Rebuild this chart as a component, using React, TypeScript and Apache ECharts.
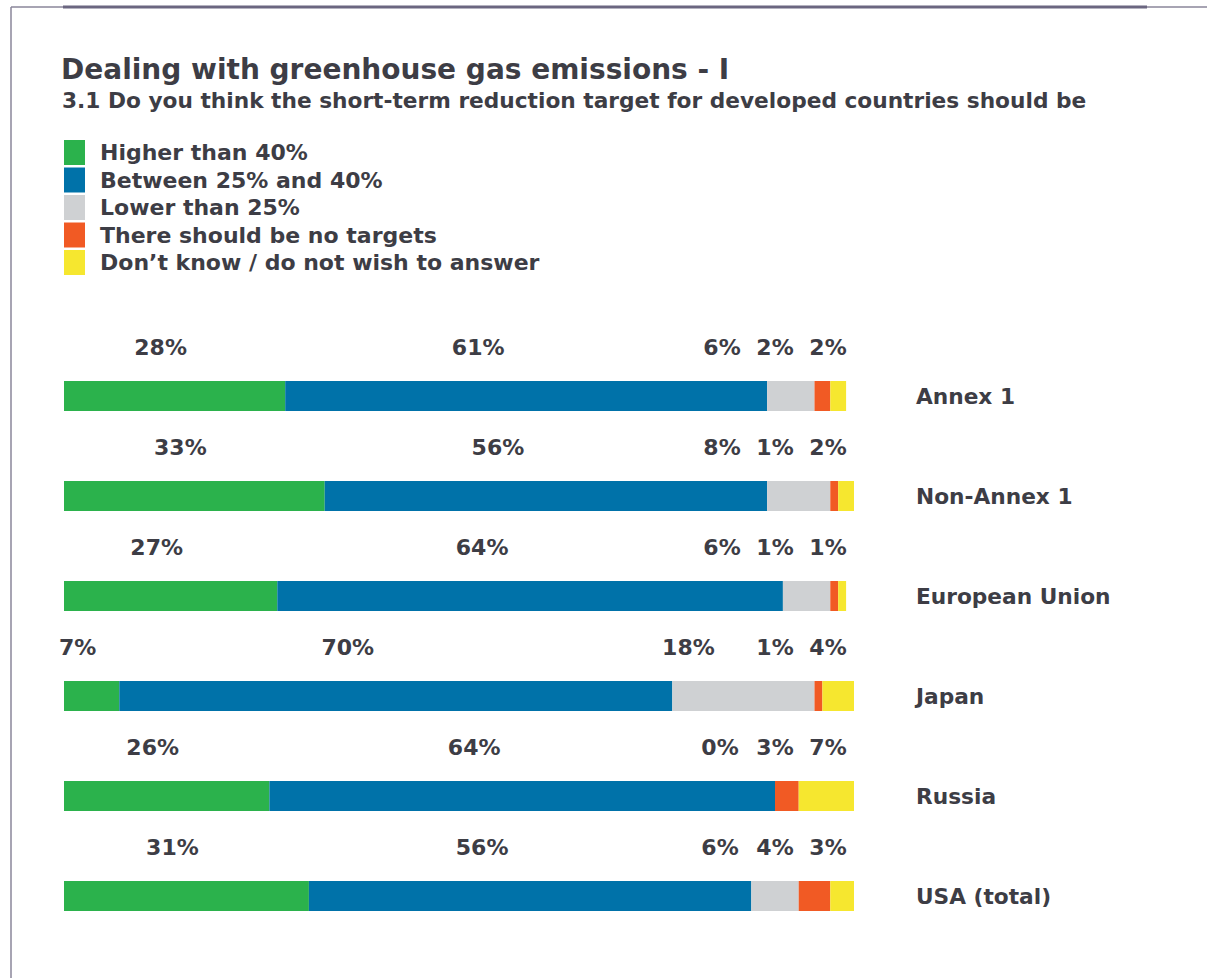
import React, { useEffect, useRef } from "react";
import * as echarts from "echarts";

const categories = ["Annex 1", "Non-Annex 1", "European Union", "Japan", "Russia", "USA (total)"];
const seriesNames = [
  "Higher than 40%",
  "Between 25% and 40%",
  "Lower than 25%",
  "There should be no targets",
  "Don\u2019t know / do not wish to answer",
];
const higher = [28, 33, 27, 7, 26, 31];
const between = [61, 56, 64, 70, 64, 56];
const lower = [6, 8, 6, 18, 0, 6];
const noTargets = [2, 1, 1, 1, 3, 4];
const dontKnow = [2, 2, 1, 4, 7, 3];

const colors = ["#2bb24c", "#0072a9", "#cfd1d3", "#f15a24", "#f6e72f"];
const textColor = "#3d3d45";
const FONT = "'DejaVu Sans', Verdana, sans-serif";

export default function App() {
  const ref = useRef<HTMLDivElement>(null);

  useEffect(() => {
    document.body.style.margin = "0";
    const chart = echarts.init(ref.current!, null, { renderer: "svg" });
    const values = [higher, between, lower, noTargets, dontKnow];

    const barSeries = values.map((arr, k) => ({
      name: seriesNames[k],
      type: "bar",
      stack: "total",
      barWidth: 30,
      data: arr,
      itemStyle: { color: colors[k] },
      emphasis: { disabled: true },
    }));

    const labelSeries = {
      type: "custom",
      data: categories.map((_, i) => [0, i]),
      encode: { x: 0, y: 1 },
      silent: true,
      z: 10,
      renderItem: (params: any, api: any) => {
        const i = api.value(1);
        const h = higher[i], b = between[i], l = lower[i], o = noTargets[i], d = dontKnow[i];
        const c = (v: number) => api.coord([v, i]);
        const x0 = c(0)[0];
        const yc = c(0)[1];
        const gEnd = c(h)[0];
        const bEnd = c(h + b)[0];
        const lEnd = c(h + b + l)[0];
        const full = c(100)[0];
        const y = yc - 49;
        const mk = (x: number, v: number) => ({
          type: "text",
          x,
          y,
          style: {
            text: v + "%",
            fill: textColor,
            fontSize: 22,
            fontWeight: "bold",
            fontFamily: FONT,
            align: "center",
            verticalAlign: "middle",
          },
        });
        return {
          type: "group",
          children: [
            mk((x0 + gEnd) / 2 - 14, h),
            mk((gEnd + bEnd) / 2 - 48, b),
            mk(Math.min(full - 132, (bEnd + lEnd) / 2 - 55), l),
            mk(full - 79, o),
            mk(full - 26, d),
          ],
        };
      },
    };

    chart.setOption({
      animation: false,
      textStyle: { fontFamily: FONT },
      title: [
        {
          text: "Dealing with greenhouse gas emissions - I",
          left: 61,
          top: 55,
          padding: 0,
          textStyle: { fontSize: 28, fontWeight: "bold", color: textColor, fontFamily: FONT },
        },
        {
          text: "3.1 Do you think the short-term reduction target for developed countries should be",
          left: 62,
          top: 89,
          padding: 0,
          textStyle: { fontSize: 21.7, fontWeight: "bold", color: textColor, fontFamily: FONT },
        },
      ],
      legend: {
        data: seriesNames,
        orient: "vertical",
        left: 64,
        top: 140,
        padding: 0,
        itemWidth: 21,
        itemHeight: 25,
        itemGap: 2.5,
        icon: "rect",
        selectedMode: false,
        textStyle: {
          fontSize: 22,
          fontWeight: "bold",
          color: textColor,
          fontFamily: FONT,
          padding: [0, 0, 0, 10],
        },
      },
      grid: { left: 64, right: 353, top: 346, bottom: 32 },
      xAxis: { type: "value", min: 0, max: 100, show: false },
      yAxis: {
        type: "category",
        data: categories,
        inverse: true,
        position: "right",
        axisLine: { show: false },
        axisTick: { show: false },
        splitLine: { show: false },
        axisLabel: {
          margin: 62,
          align: "left",
          fontSize: 21.7,
          fontWeight: "bold",
          color: textColor,
          fontFamily: FONT,
        },
      },
      graphic: [
        { type: "line", shape: { x1: 11, y1: 7, x2: 11, y2: 978 }, style: { stroke: "#8a869a", lineWidth: 1.5 } },
        { type: "line", shape: { x1: 11, y1: 7, x2: 1207, y2: 7 }, style: { stroke: "#8a869a", lineWidth: 1.5 } },
        { type: "line", shape: { x1: 63, y1: 7, x2: 1147, y2: 7 }, style: { stroke: "#6b6680", lineWidth: 3 } },
      ],
      series: [...barSeries, labelSeries],
    });

    return () => chart.dispose();
  }, []);

  return <div ref={ref} style={{ width: 1207, height: 978 }} />;
}
